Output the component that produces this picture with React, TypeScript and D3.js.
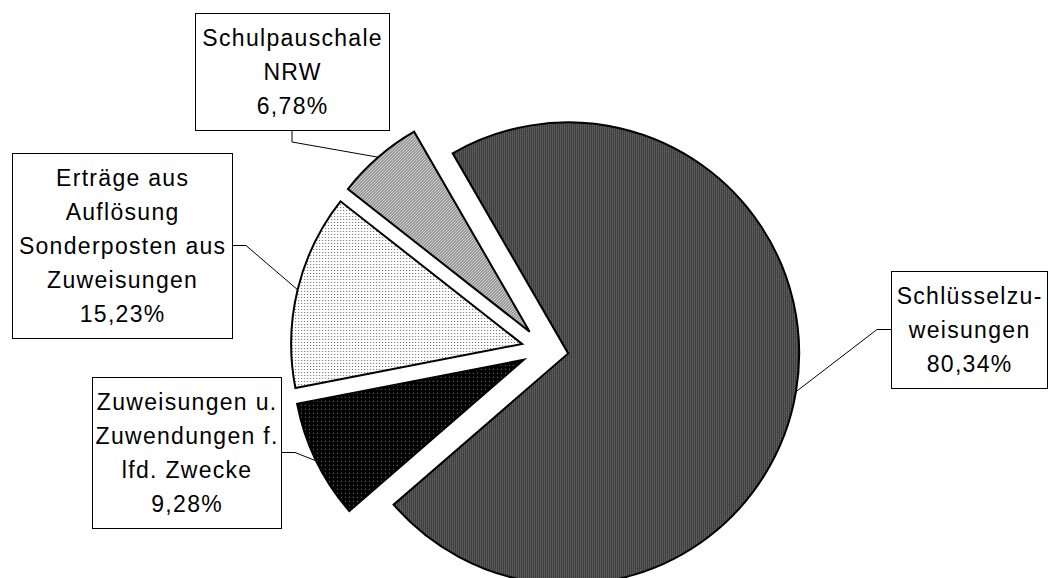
import React from 'react';
import * as d3 from 'd3';

// Anteile der Zuweisungen (in %), im Uhrzeigersinn ab "Schlüsselzuweisungen"
const categories = [
  'Schlüsselzuweisungen',
  'Zuweisungen u. Zuwendungen f. lfd. Zwecke',
  'Erträge aus Auflösung Sonderposten aus Zuweisungen',
  'Schulpauschale NRW',
];
const shares = [80.34, 9.28, 15.23, 6.78];
const labelLines = [
  ['Schlüsselzu-', 'weisungen'],
  ['Zuweisungen u.', 'Zuwendungen f.', 'lfd. Zwecke'],
  ['Erträge aus', 'Auflösung', 'Sonderposten aus', 'Zuweisungen'],
  ['Schulpauschale', 'NRW'],
];
const fillIds = ['pat-dark', 'pat-black', 'pat-dots', 'pat-hatch'];

// Label box placement (page coordinates) and the side the leader leaves from
const labelBoxes = [
  { x: 891, y: 271, w: 156, h: 117, side: 'left' },
  { x: 92, y: 377, w: 189, h: 151, side: 'right' },
  { x: 12, y: 153, w: 220, h: 185, side: 'right' },
  { x: 195, y: 13, w: 194, h: 117, side: 'bottom' },
];

const W = 1049;
const H = 578;
const CX = 545;
const CY = 349.5;
const R = 231;
const EXPLODE = 23.5;
const LINE_H = 34;
const FONT_SIZE = 23;
const LETTER_SP = 1.3;

const fmtPct = (v: number) => d3.format('.2f')(v).replace('.', ',') + '%';

export default function App() {
  const pie = d3
    .pie<number>()
    .sort(null)
    .value((d) => d)
    .startAngle((-30 * Math.PI) / 180)
    .endAngle((330 * Math.PI) / 180);
  const arcs = pie(shares);
  const arcGen = d3.arc<d3.PieArcDatum<number>>().innerRadius(0).outerRadius(R);

  const font = '"Liberation Sans", Arial, sans-serif';

  return (
    <svg
      width={W}
      height={H}
      style={{ position: 'absolute', left: 0, top: 0, background: '#fff' }}
    >
      <defs>
        <pattern id="pat-dark" width="2" height="2" patternUnits="userSpaceOnUse">
          <rect width="2" height="2" fill="#262626" shapeRendering="crispEdges" />
          <rect x="0" y="0" width="1" height="1" fill="#9a9a9a" shapeRendering="crispEdges" />
          <rect x="1" y="1" width="1" height="1" fill="#4a4a4a" shapeRendering="crispEdges" />
        </pattern>
        <pattern id="pat-black" width="4" height="4" patternUnits="userSpaceOnUse">
          <rect width="4" height="4" fill="#000" shapeRendering="crispEdges" />
          <rect x="1" y="1" width="1" height="1" fill="#8a8a8a" shapeRendering="crispEdges" />
        </pattern>
        <pattern id="pat-dots" width="3" height="3" patternUnits="userSpaceOnUse">
          <rect width="3" height="3" fill="#fff" shapeRendering="crispEdges" />
          <rect x="1" y="1" width="1" height="1" fill="#666" shapeRendering="crispEdges" />
        </pattern>
        <pattern id="pat-hatch" width="3" height="3" patternUnits="userSpaceOnUse">
          <rect width="3" height="3" fill="#e0e0e0" shapeRendering="crispEdges" />
          <rect x="0" y="2" width="1" height="1" fill="#444" shapeRendering="crispEdges" />
          <rect x="1" y="1" width="1" height="1" fill="#444" shapeRendering="crispEdges" />
          <rect x="2" y="0" width="1" height="1" fill="#444" shapeRendering="crispEdges" />
        </pattern>
      </defs>

      {arcs.map((a, i) => {
        const mid = (a.startAngle + a.endAngle) / 2;
        const ox = Math.sin(mid) * EXPLODE;
        const oy = -Math.cos(mid) * EXPLODE;
        return (
          <path
            key={categories[i]}
            d={arcGen(a) || ''}
            transform={`translate(${CX + ox},${CY + oy})`}
            fill={`url(#${fillIds[i]})`}
            stroke="#000"
            strokeWidth={2}
            strokeLinejoin="miter"
          />
        );
      })}

      {arcs.map((a, i) => {
        const mid = (a.startAngle + a.endAngle) / 2;
        const ox = Math.sin(mid) * (EXPLODE + R);
        const oy = -Math.cos(mid) * (EXPLODE + R);
        const px = CX + ox;
        const py = CY + oy;
        const b = labelBoxes[i];
        let ex: number, ey: number, bx: number, by: number;
        if (b.side === 'left') {
          bx = b.x;
          by = b.y + b.h / 2;
          ex = bx - 14;
          ey = by;
        } else if (b.side === 'right') {
          bx = b.x + b.w;
          by = b.y + b.h / 2;
          ex = bx + 14;
          ey = by;
        } else {
          bx = b.x + b.w / 2;
          by = b.y + b.h;
          ex = bx;
          ey = by + 12;
        }
        const lines = [...labelLines[i], fmtPct(shares[i])];
        const tx = b.x + b.w / 2;
        const cy = b.y + b.h / 2;
        const first = cy - ((lines.length - 1) * LINE_H) / 2;
        return (
          <g key={'lbl' + i}>
            <polyline
              points={`${px},${py} ${ex},${ey} ${bx},${by}`}
              fill="none"
              stroke="#000"
              strokeWidth={1}
            />
            <rect
              x={b.x + 0.5}
              y={b.y + 0.5}
              width={b.w}
              height={b.h}
              fill="#fff"
              stroke="#000"
              strokeWidth={1}
            />
            <text
              x={tx}
              textAnchor="middle"
              fontFamily={font}
              fontSize={FONT_SIZE}
              letterSpacing={LETTER_SP}
              fill="#000"
            >
              {lines.map((ln, k) => (
                <tspan key={k} x={tx + LETTER_SP / 2} y={first + k * LINE_H + 8.5}>
                  {ln}
                </tspan>
              ))}
            </text>
          </g>
        );
      })}
    </svg>
  );
}
